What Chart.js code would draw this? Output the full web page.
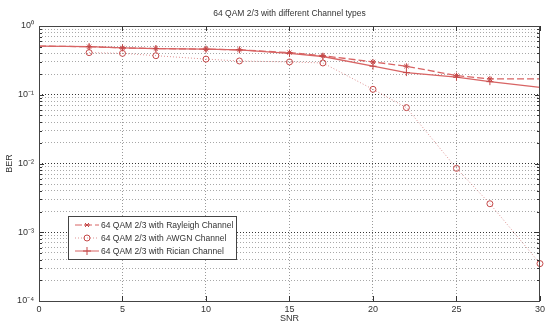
<!DOCTYPE html>
<html>
<head>
<meta charset="utf-8">
<script src="https://cdn.jsdelivr.net/npm/chart.js@4/dist/chart.umd.min.js"></script>
<style>
html,body{margin:0;padding:0;background:#fff;}
canvas{display:block;}
</style>
</head>
<body>
<canvas id="c" width="548" height="324"></canvas>
<script>
const snr = [0, 3, 5, 7, 10, 12, 15, 17, 20, 22, 25, 27, 30];
const rayleigh = [0.51, 0.50, 0.48, 0.47, 0.46, 0.45, 0.41, 0.37, 0.30, 0.26, 0.19, 0.17, 0.17];
const awgn = [null, 0.41, 0.40, 0.37, 0.33, 0.31, 0.30, 0.29, 0.12, 0.065, 0.0085, 0.0026, 0.00035];
const rician = [0.51, 0.50, 0.48, 0.47, 0.46, 0.45, 0.40, 0.36, 0.26, 0.21, 0.18, 0.155, 0.128];
const seriesNames = ['64 QAM 2/3 with Rayleigh Channel', '64 QAM 2/3 with AWGN Channel', '64 QAM 2/3 with Rician Channel'];
const xTicks = [0, 5, 10, 15, 20, 25, 30];
const titleText = '64 QAM 2/3 with different Channel types';

const FONT = "'Liberation Sans', Arial, sans-serif";
const sup = {'0':'⁰','1':'¹','2':'²','3':'³','4':'⁴','-':'⁻'};
function supStr(n){return String(n).split('').map(c=>sup[c]).join('');}
function toXY(ys){return snr.map((x,i)=>({x:x,y:ys[i]}));}
function radii(ys, r, hideLast){return snr.map((x,i)=> (x===0 || ys[i]===null || (hideLast && i===snr.length-1)) ? 0 : r);}

const lineRed = 'rgb(216,100,100)';
const markRed = 'rgb(196,72,72)';

const styles = [
  {color: lineRed, dash:[7,3], pointStyle:'star', r:3, hideLast:true},
  {color: 'rgba(214,120,120,0.8)', dash:[1,2], pointStyle:'circle', r:3, hideLast:false},
  {color: lineRed, dash:[], pointStyle:'cross', r:3.5, hideLast:true}
];

const frame = {
  id:'frame',
  afterDraw(chart){
    const {ctx, chartArea:a, scales} = chart;
    ctx.save();
    ctx.font = "8.5px " + FONT;
    ctx.fillStyle = '#333';
    ctx.textAlign = 'center'; ctx.textBaseline = 'middle';
    ctx.fillText(titleText, (a.left+a.right)/2, 14);
    ctx.textAlign = 'left';
    ctx.strokeStyle = '#333'; ctx.lineWidth = 1;
    const ys = scales.y;
    for (let d = -4; d < 0; d++){
      for (let m = 1; m <= 9; m++){
        const v = m*Math.pow(10,d);
        const p = Math.round(ys.getPixelForValue(v)) + 0.5;
        const len = m===1 ? 5 : 3;
        ctx.beginPath();
        ctx.moveTo(a.left, p); ctx.lineTo(a.left+len, p);
        ctx.moveTo(a.right, p); ctx.lineTo(a.right-len, p);
        ctx.stroke();
      }
    }
    const xs = scales.x;
    xTicks.forEach(v=>{
      const p = Math.round(xs.getPixelForValue(v)) + 0.5;
      ctx.beginPath();
      ctx.moveTo(p, a.bottom); ctx.lineTo(p, a.bottom-5);
      ctx.moveTo(p, a.top); ctx.lineTo(p, a.top+5);
      ctx.stroke();
    });
    ctx.strokeStyle = '#444';
    ctx.strokeRect(Math.round(a.left)+0.5, Math.round(a.top)+0.5, Math.round(a.right-a.left)-1, Math.round(a.bottom-a.top));
    const bx=68, by=216, bw=168, bh=43;
    ctx.fillStyle='#fff'; ctx.fillRect(bx,by,bw,bh);
    ctx.strokeStyle='#444'; ctx.strokeRect(bx+0.5,by+0.5,bw,bh);
    ctx.font = "8.5px " + FONT;
    ctx.textBaseline='middle';
    seriesNames.forEach((name,i)=>{
      const yy = by + 9 + i*13;
      const s = styles[i];
      ctx.strokeStyle = s.color; ctx.lineWidth = 1;
      ctx.setLineDash(s.dash);
      ctx.beginPath(); ctx.moveTo(75,yy); ctx.lineTo(99,yy); ctx.stroke();
      ctx.setLineDash([]);
      ctx.strokeStyle = markRed;
      ctx.beginPath();
      if (s.pointStyle==='circle'){ ctx.arc(87,yy,3,0,Math.PI*2); }
      else if (s.pointStyle==='cross'){ ctx.moveTo(87,yy-4); ctx.lineTo(87,yy+4); ctx.moveTo(83,yy); ctx.lineTo(91,yy); }
      else { ctx.moveTo(85,yy-2); ctx.lineTo(89,yy+2); ctx.moveTo(89,yy-2); ctx.lineTo(85,yy+2); ctx.moveTo(84,yy); ctx.lineTo(90,yy); }
      ctx.stroke();
      ctx.fillStyle='#333';
      ctx.fillText(name, 101, yy+0.5);
    });
    ctx.restore();
  }
};

new Chart(document.getElementById('c'), {
  type:'line',
  data:{
    datasets:[rayleigh, awgn, rician].map((ys,i)=>({
      label: seriesNames[i],
      data: toXY(ys),
      borderColor: styles[i].color,
      borderWidth: i===1 ? 1 : 1.3,
      borderDash: styles[i].dash,
      pointStyle: styles[i].pointStyle,
      pointRadius: radii(ys, styles[i].r, styles[i].hideLast),
      pointBorderColor: markRed,
      pointBackgroundColor: 'rgba(0,0,0,0)',
      pointBorderWidth: 1,
      fill:false,
      tension:0,
      spanGaps:false,
      clip: 4
    }))
  },
  options:{
    responsive:false,
    devicePixelRatio:1,
    animation:false,
    layout:{padding:{left:0,right:2,top:26,bottom:0}},
    plugins:{
      legend:{display:false},
      tooltip:{enabled:false},
      title:{display:false}
    },
    scales:{
      x:{
        type:'linear', min:0, max:30,
        afterBuildTicks(s){ s.ticks = xTicks.map(v=>({value:v})); },
        ticks:{font:{family:FONT,size:9}, color:'#333', padding:3, maxRotation:0},
        grid:{drawTicks:false, color:(c)=> (c.tick && (c.tick.value===0||c.tick.value===30)) ? 'rgba(0,0,0,0)' : '#9a9a9a', lineWidth:1},
        border:{display:false, dash:[1,2]},
        title:{display:true, text:'SNR', font:{family:FONT,size:9}, color:'#333', padding:{top:0,bottom:0}},
        afterFit(s){ s.height = 23; }
      },
      y:{
        type:'logarithmic', min:1e-4, max:1,
        afterBuildTicks(s){
          const t=[];
          for (let d=-4; d<0; d++) for (let m=1; m<=9; m++) t.push({value:m*Math.pow(10,d)});
          t.push({value:1});
          s.ticks=t;
        },
        ticks:{font:{family:FONT,size:9}, color:'#333', padding:5, autoSkip:false,
          callback(v){ const l=Math.log10(v); return Math.abs(l-Math.round(l))<1e-9 ? '10'+supStr(Math.round(l)) : ''; }},
        grid:{drawTicks:false, lineWidth:1, color:(c)=>{
          if(!c.tick) return '#aaa';
          const l=Math.log10(c.tick.value);
          if (Math.abs(l)<1e-9 || Math.abs(l+4)<1e-9) return 'rgba(0,0,0,0)';
          return Math.abs(l-Math.round(l))<1e-9 ? '#333' : '#a8a8a8';
        }},
        border:{display:false, dash:[1,2]},
        title:{display:true, text:'BER', font:{family:FONT,size:9}, color:'#333', padding:{top:4,bottom:0}},
        afterFit(s){ s.width = 39; }
      }
    }
  },
  plugins:[frame]
});
</script>
</body>
</html>
